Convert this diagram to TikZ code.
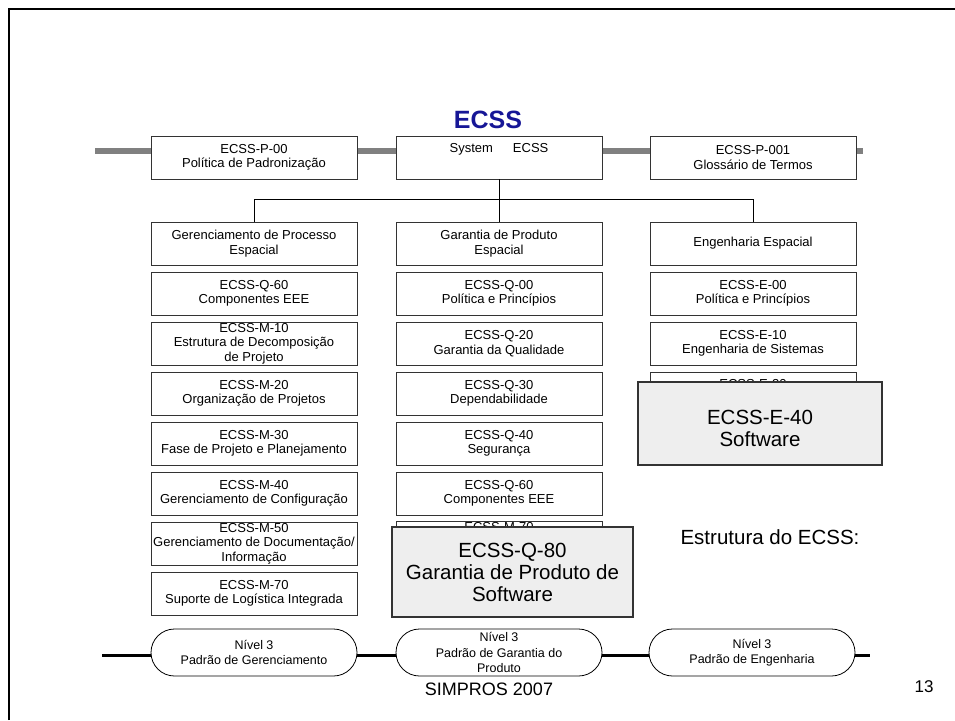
\documentclass[tikz,border=0pt]{standalone}
\usepackage{fontspec}
\setmainfont{Liberation Sans}
\usetikzlibrary{shapes.misc}
\definecolor{ecssblue}{RGB}{22,22,150}
\definecolor{softgray}{RGB}{238,238,238}
\tikzset{
  stdbox/.style={draw=black!80,line width=0.8pt,fill=white,minimum width=206,
    minimum height=43,inner sep=0pt,align=center,
    font=\fontsize{13}{14.5}\selectfont},
  swbox/.style={draw=black!80,line width=1.2pt,fill=softgray,inner sep=0pt},
  swtext/.style={align=center,inner sep=0pt,font=\fontsize{20.5}{22}\selectfont},
  levelbox/.style={draw,line width=0.8pt,fill=white,rounded rectangle,
    minimum width=206,minimum height=47,inner sep=0pt,align=center,
    font=\fontsize{12.5}{15.5}\selectfont}}
\begin{document}
\begin{tikzpicture}[x=1pt,y=-1pt]
 \useasboundingbox (0,0) rectangle (955,720);
 % slide frame
 \draw[line width=2.5pt] (8.75,720) -- (8.75,8.75) -- (955,8.75);
 % bars behind the boxes
 \path (95,151) coordinate (barL) (863,151) coordinate (barR)
       (102,655) coordinate (baseL) (870,655) coordinate (baseR);
 \draw[line width=6pt,gray] (barL) -- (barR);
 \draw[line width=3pt] (baseL) -- (baseR);
 % title and top row
 \node[font=\fontsize{25}{25}\selectfont\bfseries,text=ecssblue] (title) at (488,120) {ECSS};
 \node[stdbox] (P00) at (254,157.5) {ECSS-P-00\\Política de Padronização};
 \node[stdbox] (SYS) at (499,157.5) {System\hspace{20pt}ECSS\\\strut};
 \node[stdbox] (P001) at (753,157.5) {ECSS-P-001\\Glossário de Termos};
 % the three columns, one box every 50px
 \foreach \txt [count=\i from 0] in {{Gerenciamento de Processo\\Espacial},
   {ECSS-Q-60\\Componentes EEE},{ECSS-M-10\\Estrutura de Decomposição\\de Projeto},
   {ECSS-M-20\\Organização de Projetos},{ECSS-M-30\\Fase de Projeto e Planejamento},
   {ECSS-M-40\\Gerenciamento de Configuração},
   {ECSS-M-50\\Gerenciamento de Documentação/\\Informação},
   {ECSS-M-70\\Suporte de Logística Integrada}}
  {\node[stdbox] (M\i) at (254,{243.5+50*\i}) {\txt};}
 \foreach \txt [count=\i from 0] in {{Garantia de Produto\\Espacial},
   {ECSS-Q-00\\Política e Princípios},{ECSS-Q-20\\Garantia da Qualidade},
   {ECSS-Q-30\\Dependabilidade},{ECSS-Q-40\\Segurança},
   {ECSS-Q-60\\Componentes EEE},{\strut ECSS-M-70\\\strut\\\strut}}
  {\node[stdbox] (Q\i) at (499,{243.5+50*\i}) {\txt};}
 \foreach \txt [count=\i from 0] in {{Engenharia Espacial},
   {ECSS-E-00\\Política e Princípios},{ECSS-E-10\\Engenharia de Sistemas},
   {ECSS-E-20\\\strut}}
  {\node[stdbox] (E\i) at (753,{243.5+50*\i}) {\txt};}
 % tree below System ECSS
 \draw[line width=0.8pt] (SYS) -- (Q0);
 \draw[line width=0.8pt] (M0.north) -- ++(0,-22) -| (E0.north);
 % software boxes on top
 \node[swbox,minimum width=244,minimum height=83] (E40) at (760,423.5) {};
 \node[swtext] (E40txt) at ([yshift=-4.5pt]E40.center) {ECSS-E-40\\Software};
 \node[swbox,minimum width=241,minimum height=90] (Q80) at (512.5,572) {};
 \node[swtext] (Q80txt) at (Q80.center) {ECSS-Q-80\\Garantia de Produto de\\Software};
 \node[swtext] (struct) at (770,537) {Estrutura do ECSS:};
 % level 3 standards
 \node[levelbox] (N1) at (254,652.5) {Nível 3\\Padrão de Gerenciamento};
 \node[levelbox] (N2) at (499,652.5) {Nível 3\\Padrão de Garantia do\\Produto};
 \node[levelbox] (N3) at (752,652.5) {Nível 3\\Padrão de Engenharia};
 \node[font=\fontsize{18}{18}\selectfont] (simp) at (489,689) {SIMPROS 2007};
 \node[font=\fontsize{17}{17}\selectfont] (page) at (924,687) {13};
\end{tikzpicture}
\end{document}
